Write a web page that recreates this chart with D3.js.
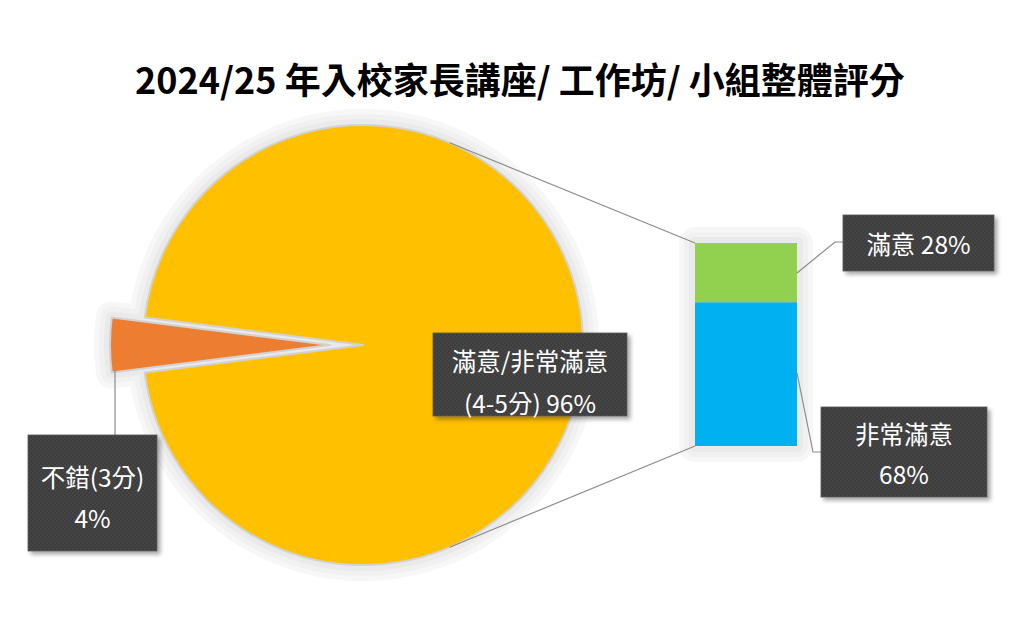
<!DOCTYPE html>
<html><head><meta charset="utf-8">
<script src="https://cdn.jsdelivr.net/npm/d3@7"></script>
<style>html,body{margin:0;padding:0;background:#fff;}svg{display:block;}</style>
</head><body>
<svg id="c" width="1024" height="624"></svg>
<script>
const title = "2024/25 年入校家長講座/ 工作坊/ 小組整體評分";
const pieCategories = ["滿意/非常滿意", "不錯(3分)"];
const pieLabelLines = [["滿意/非常滿意", "(4-5分) 96%"], ["不錯(3分)", "4%"]];
const pieValues = [96, 4];
const barCategories = ["非常滿意", "滿意"];
const barLabelLines = [["非常滿意", "68%"], ["滿意 28%"]];
const barValues = [68, 28];
const pieColors = ["#FFC000", "#ED7D31"];
const barColors = ["#00B0F0", "#92D050"];

const svg = d3.select("#c");
const defs = svg.append("defs");
const pat = defs.append("pattern").attr("id","dots").attr("width",4).attr("height",4).attr("patternUnits","userSpaceOnUse");
pat.append("rect").attr("width",4).attr("height",4).attr("fill","#3d3d3d");
pat.append("circle").attr("cx",1).attr("cy",1).attr("r",0.7).attr("fill","#4f4f4f");
pat.append("circle").attr("cx",3).attr("cy",3).attr("r",0.7).attr("fill","#4f4f4f");
const sh = defs.append("filter").attr("id","sh").attr("x","-20%").attr("y","-20%").attr("width","140%").attr("height","140%");
sh.append("feDropShadow").attr("dx",3).attr("dy",3).attr("stdDeviation",2).attr("flood-color","#000").attr("flood-opacity",0.35);

const font = "'Noto Sans CJK TC','Noto Sans CJK SC',sans-serif";
const haloSteps = [[16, "#f7f7f7"], [11, "#f1f1f1"], [6, "#eaeaea"]];

svg.append("text").attr("x",520).attr("y",78).attr("text-anchor","middle")
  .attr("dominant-baseline","central").attr("font-family",font).attr("font-weight",700)
  .attr("font-size",36).attr("fill","#000").text(title);

// Pie
const cx = 363, cy = 345, R = 220, explode = 33;
const share = pieValues[1] / d3.sum(pieValues);
const a0 = 1.5*Math.PI + Math.PI*share - 2*Math.PI;
const pie = d3.pie().sort(null).startAngle(a0).endAngle(a0 + 2*Math.PI);
const arcs = pie(pieValues);
const arc = d3.arc().innerRadius(0).outerRadius(R);
const sliceT = (d,i) => {
  const m = (d.startAngle + d.endAngle)/2;
  const p = d3.pointRadial(m, i === 1 ? explode : 0);
  return `translate(${cx + p[0]},${cy + p[1]})`;
};
haloSteps.forEach(([w, c]) => {
  svg.append("g").selectAll("path").data(arcs).join("path")
    .attr("transform", sliceT).attr("d", arc)
    .attr("fill", c).attr("stroke", c).attr("stroke-width", w*2).attr("stroke-linejoin","round");
});
svg.append("g").selectAll("path").data(arcs).join("path")
  .attr("transform", sliceT).attr("d", arc).attr("fill", (d,i) => pieColors[i])
  .attr("stroke","#d2d2d2").attr("stroke-width",2).attr("stroke-linejoin","round");

// Bar
const barX = 695, barW = 102;
const y = d3.scaleLinear().domain([0, d3.sum(barValues)]).range([446, 243]);
const barTop = y(d3.sum(barValues)), barBot = y(0);
haloSteps.forEach(([w, c]) => {
  svg.append("rect").attr("x",barX-w).attr("y",barTop-w).attr("width",barW+2*w).attr("height",barBot-barTop+2*w)
    .attr("rx",w).attr("fill",c);
});
let acc = 0;
const stacks = barValues.map(v => { const s = {y0: acc, y1: acc + v}; acc += v; return s; });
svg.append("g").selectAll("rect").data(stacks).join("rect")
  .attr("x", barX).attr("width", barW)
  .attr("y", d => y(d.y1)).attr("height", d => y(d.y0) - y(d.y1))
  .attr("fill", (d,i) => barColors[i]);

// connector lines pie -> bar
const angTop = 23.2*Math.PI/180, angBot = (180-23.2)*Math.PI/180;
const pt = d3.pointRadial(angTop, R), pb = d3.pointRadial(angBot, R);
svg.append("line").attr("x1",cx+pt[0]).attr("y1",cy+pt[1]).attr("x2",barX).attr("y2",barTop)
  .attr("stroke","#8c8c8c").attr("stroke-width",1.2);
svg.append("line").attr("x1",cx+pb[0]).attr("y1",cy+pb[1]).attr("x2",barX).attr("y2",barBot)
  .attr("stroke","#8c8c8c").attr("stroke-width",1.2);

function label(x0, y0, w, h, lines, lineYs) {
  const g = svg.append("g");
  g.append("rect").attr("x",x0).attr("y",y0).attr("width",w).attr("height",h)
    .attr("fill","url(#dots)").attr("stroke","#5a5a5a").attr("stroke-width",0.8).attr("filter","url(#sh)");
  lines.forEach((t,i) => {
    g.append("text").attr("x", x0 + w/2).attr("y", lineYs[i]).attr("text-anchor","middle")
      .attr("dominant-baseline","central").attr("font-family",font).attr("font-size",24.5)
      .attr("fill","#fff").text(t);
  });
}
function leader(pts) {
  svg.append("path").attr("d", d3.line()(pts)).attr("fill","none").attr("stroke","#8c8c8c").attr("stroke-width",1.2);
}

leader([[115,370],[115,435]]);
leader([[barX+barW, 273],[835,242],[843,242]]);
leader([[barX+barW, 373],[813,452],[821,452]]);

label(433, 333, 194, 83, pieLabelLines[0], [360, 402]);
label(28, 435, 129, 116, pieLabelLines[1], [476, 517]);
label(843, 215, 151, 56, barLabelLines[1], [243]);
label(821, 407, 166, 90, barLabelLines[0], [433, 473]);
</script>
</body></html>
